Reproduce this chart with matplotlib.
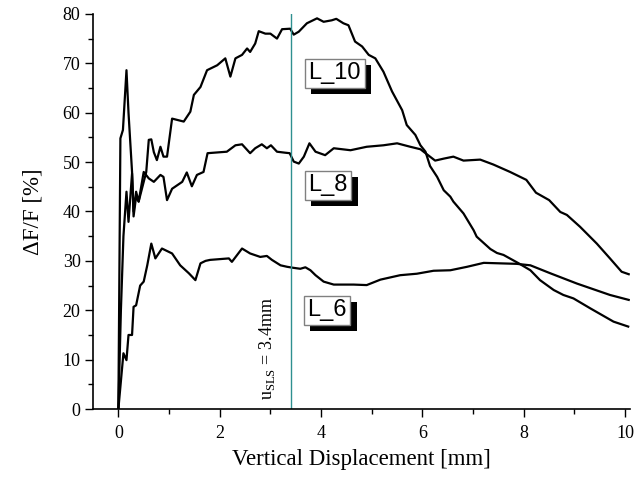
import numpy as np
import matplotlib
matplotlib.use('Agg')
import matplotlib.pyplot as plt
import matplotlib.patheffects as pe
from matplotlib.ticker import MultipleLocator

plt.rcParams['font.family'] = 'Liberation Serif'
plt.rcParams['mathtext.fontset'] = 'custom'
plt.rcParams['mathtext.rm'] = 'Liberation Serif'

# Datos: desplazamiento [mm], ΔF/F [%]
x_l10 = [0, 0.04, 0.09, 0.16, 0.2, 0.27, 0.3, 0.35, 0.4, 0.45, 0.5, 0.55, 0.6, 0.65,
         0.7, 0.76, 0.83, 0.89, 0.96, 1.06, 1.29, 1.42, 1.49, 1.62, 1.75, 1.95, 2.11,
         2.21, 2.31, 2.44, 2.54, 2.6, 2.7, 2.77, 2.9, 3.0, 3.13, 3.23, 3.39, 3.46, 3.56,
         3.72, 3.92, 4.05, 4.21, 4.3, 4.44, 4.54, 4.67, 4.81, 4.94, 5.07, 5.23, 5.4,
         5.6, 5.69, 5.86, 5.96, 6.06, 6.15, 6.29, 6.42, 6.55, 6.61, 6.81, 7.01, 7.07,
         7.34, 7.47, 7.6, 7.9, 8.13, 8.32, 8.59, 8.78, 8.98, 9.31, 9.77, 10.06]
y_l10 = [0, 54.8, 56.5, 68.6, 60, 48, 39, 43, 42, 44, 46, 48, 54.5, 54.6,
         52, 50.4, 53.1, 51.1, 51.1, 58.8, 58.2, 60.2, 63.6, 65.2, 68.6, 69.6, 71,
         67.3, 71, 71.7, 73, 72.3, 74, 76.5, 76, 76, 75, 76.9, 77, 75.8, 76.4,
         78.1, 79.1, 78.4, 78.7, 79, 78.1, 77.7, 74.4, 73.4, 71.7, 71, 68.3, 64.3,
         60.5, 57.5, 55.5, 53.4, 52.1, 49.2, 47, 44.3, 43, 42, 39.6, 36.2, 34.9,
         32.4, 31.6, 31.2, 29.5, 28.1, 26.1, 24.1, 23.1, 22.4, 20.4, 17.7, 16.7]

x_l8 = [0, 0.05, 0.1, 0.16, 0.2, 0.27, 0.3, 0.35, 0.4, 0.45, 0.5, 0.6, 0.7, 0.83,
        0.89, 0.96, 1.06, 1.26, 1.35, 1.45, 1.55, 1.68, 1.76, 2.14, 2.31, 2.44, 2.6,
        2.7, 2.83, 2.93, 3.01, 3.13, 3.29, 3.38, 3.46, 3.56, 3.66, 3.77, 3.89, 4.08,
        4.25, 4.58, 4.9, 5.23, 5.5, 5.76, 5.96, 6.06, 6.25, 6.42, 6.61, 6.81, 7.14,
        7.4, 7.73, 8.05, 8.24, 8.5, 8.72, 8.85, 9.11, 9.44, 9.7, 9.93, 10.07]
y_l8 = [0, 20, 35, 44, 37.9, 47.7, 40, 44, 42, 45, 48, 46.7, 46, 47.4,
        47, 42.3, 44.6, 46, 47.9, 45.1, 47.4, 48, 51.8, 52.1, 53.4, 53.6, 51.8,
        52.8, 53.6, 52.8, 53.4, 52.1, 51.9, 51.8, 50.1, 49.7, 51.1, 53.8, 52.1, 51.4,
        52.8, 52.4, 53.1, 53.4, 53.8, 53.1, 52.6, 51.8, 50.3, 50.7, 51.1, 50.3, 50.5,
        49.5, 48, 46.4, 43.8, 42.3, 39.9, 39.3, 36.9, 33.5, 30.5, 27.8, 27.3]

x_l6 = [0, 0.1, 0.16, 0.2, 0.27, 0.3, 0.35, 0.43, 0.5, 0.57, 0.65, 0.73, 0.86, 0.96,
        1.06, 1.22, 1.39, 1.52, 1.62, 1.72, 1.81, 2.18, 2.24, 2.44, 2.6, 2.8, 2.93,
        3.03, 3.2, 3.33, 3.45, 3.59, 3.69, 3.79, 3.89, 4.05, 4.25, 4.64, 4.9, 5.17,
        5.56, 5.89, 6.22, 6.55, 6.88, 7.21, 7.53, 7.86, 8.13, 8.52, 9.05, 9.7, 10.07]
y_l6 = [0, 11.3, 9.9, 15, 15, 20.7, 21, 25, 25.8, 29.1, 33.5, 30.5, 32.5, 32,
        31.5, 29.1, 27.5, 26.1, 29.5, 30, 30.2, 30.5, 29.8, 32.5, 31.5, 30.8, 31,
        30.2, 29.1, 28.8, 28.6, 28.4, 28.7, 28.1, 27.1, 25.8, 25.2, 25.2, 25.1, 26.2,
        27.1, 27.4, 28, 28.1, 28.8, 29.6, 29.5, 29.4, 29.1, 27.5, 25.4, 23.1, 22.1]

u_sls = 3.4
etiquetas = ['L_10', 'L_8', 'L_6']
pos_etiquetas = [(4.27, 68), (4.14, 45.3), (4.12, 20)]

fig = plt.figure(figsize=(6.35, 4.79), dpi=100)
ax = fig.add_axes([0.1465, 0.146, 0.846, 0.825])

for xs, ys in [(x_l10, y_l10), (x_l8, y_l8), (x_l6, y_l6)]:
    ax.plot(xs, ys, color='black', lw=1.6)

ax.axvline(u_sls, color='#2f9090', lw=1.0)
ax.text(u_sls - 0.47, 1.8, r'u$_{\rm SLS}$ = 3.4mm', rotation=90,
        ha='center', va='bottom', fontsize=13)

for texto, (tx, ty) in zip(etiquetas, pos_etiquetas):
    t = ax.text(tx, ty, texto, ha='center', va='center', fontsize=17,
                family='Liberation Sans',
                bbox=dict(boxstyle='square,pad=0.15', facecolor='white',
                          edgecolor='#808080', lw=1.0))
    t.get_bbox_patch().set_path_effects([
        pe.withSimplePatchShadow(offset=(4.5, -4.5), shadow_rgbFace='black', alpha=1.0)])

ax.set_xlim(-0.5, 10.1)
ax.set_ylim(0, 80)
ax.xaxis.set_major_locator(MultipleLocator(2))
ax.xaxis.set_minor_locator(MultipleLocator(1))
ax.yaxis.set_major_locator(MultipleLocator(10))
ax.yaxis.set_minor_locator(MultipleLocator(5))
ax.tick_params(which='major', length=5.5, width=1, labelsize=13, direction='out')
ax.tick_params(which='minor', length=3.5, width=1, direction='out')
ax.tick_params(axis='x', which='major', pad=6)

for lado in ['top', 'right']:
    ax.spines[lado].set_visible(False)
for lado in ['left', 'bottom']:
    ax.spines[lado].set_linewidth(1.2)

ax.set_xlabel('Vertical Displacement [mm]', fontsize=16.5, labelpad=5)
ax.set_ylabel('ΔF/F [%]', fontsize=16.5, labelpad=14)

fig.savefig('out.png', dpi=100)
